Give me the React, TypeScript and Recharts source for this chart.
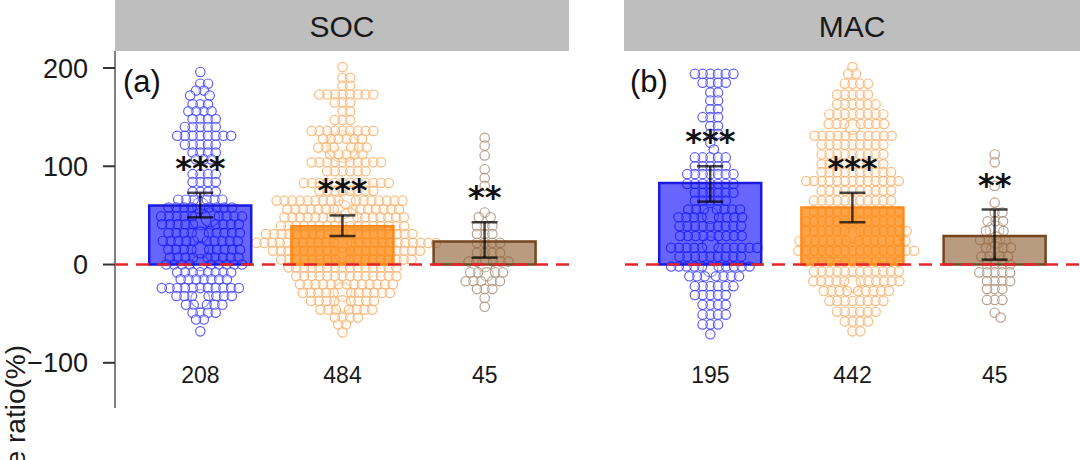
import { ComposedChart, Bar, Cell, ErrorBar, Scatter, XAxis, YAxis, ReferenceLine } from 'recharts'

// bar means and 95% CI per treatment (x = 1, 2, 3)
const treatments = ['1', '2', '3']
const socMeans = [60, 39, 23.5]
const socLow = [48, 29, 7]
const socHigh = [73, 50, 43]
const socStars = ['***', '***', '**']
const socN = [208, 484, 45]

const macMeans = [83, 58, 29]
const macLow = [64, 43, 5]
const macHigh = [100, 73, 56]
const macStars = ['***', '***', '**']
const macN = [195, 442, 45]

const yTicks = [-100, 0, 100, 200]

// swarm rows: [response value, number of observations]
const socBlueRows = [
  [196, 1], [184, 2], [177, 2], [172, 2], [163, 3], [156, 4], [148, 4], [140, 5], [131, 8], [122, 5],
  [114, 4], [107, 3], [92, 4], [84, 4], [74, 4], [66, 6], [58, 8], [49, 9], [41, 9], [32, 9],
  [24, 10], [15, 9], [7, 9], [0, 9], [-8, 8], [-15, 7], [-24, 11], [-32, 7], [-41, 5], [-49, 4],
  [-56, 2], [-68, 1],
]
const socOrangeRows = [
  [201, 1], [190, 2], [182, 2], [173, 8], [165, 3], [156, 2], [147, 3], [136, 9], [128, 6], [119, 6],
  [112, 5], [104, 10], [95, 6], [83, 12], [75, 8], [65, 16], [56, 14], [48, 15], [39, 17], [31, 20],
  [22, 23], [14, 19], [5, 17], [-3, 15], [-12, 14], [-20, 13], [-29, 11], [-37, 8], [-46, 7], [-54, 4],
  [-61, 2], [-69, 1],
]
const socBrownRows = [
  [129, 1], [121, 1], [111, 1], [97, 1], [88, 1], [80, 1], [53, 1], [48, 2], [39, 3], [31, 3],
  [22, 4], [12, 4], [3, 5], [-8, 4], [-17, 5], [-25, 3], [-34, 1], [-43, 1],
]
const macBlueRows = [
  [194, 6], [185, 4], [175, 2], [167, 2], [158, 2], [150, 3], [141, 2], [133, 2], [124, 1], [117, 1],
  [109, 5], [100, 5], [92, 7], [82, 7], [73, 6], [65, 5], [56, 7], [48, 8], [39, 9], [29, 9],
  [17, 11], [8, 9], [-2, 10], [-12, 7], [-22, 6], [-31, 5], [-41, 4], [-51, 4], [-61, 3], [-71, 1],
]
const macOrangeRows = [
  [201, 1], [194, 2], [184, 4], [173, 5], [163, 6], [153, 8], [143, 7], [131, 11], [122, 9], [112, 9],
  [102, 9], [94, 10], [85, 13], [75, 10], [65, 11], [54, 12], [44, 13], [34, 13], [24, 14], [14, 16],
  [3, 13], [-7, 12], [-17, 11], [-27, 9], [-37, 8], [-48, 6], [-58, 4], [-68, 2],
]
const macBrownRows = [
  [112, 1], [104, 1], [80, 1], [63, 1], [53, 2], [44, 3], [34, 2], [25, 3], [17, 3], [8, 4],
  [0, 4], [-8, 5], [-17, 4], [-25, 3], [-36, 3], [-49, 1], [-54, 1],
]

// heavier-weighted observations: [response value, weight]
const socBlueBig = [[46, 5], [48, 4], [30, 3], [-35, 4], [2, 3], [60, 3], [15, 3]]
const socOrangeBig = [[120, 11], [56, 4], [48, 4], [22, 4], [-28, 4], [10, 3], [-40, 3], [65, 3]]
const socBrownBig = [[0, 2.5], [-10, 2]]
const macBlueBig = [[20, 3], [50, 3], [-5, 2.5]]
const macOrangeBig = [[30, 3], [-20, 3], [140, 2.5]]
const macBrownBig = [[35, 4], [25, 3], [15, 3]]

const Y_MIN = -146
const Y_MAX = 217.3
const PLOT_TOP = 51
const PLOT_H = 357
const PLOT_W = 455
const AXIS_W = 115
const X_DOMAIN = [0.4, 3.6]
const PX_PER_V = PLOT_H / (Y_MAX - Y_MIN)
const PX_PER_X = PLOT_W / (X_DOMAIN[1] - X_DOMAIN[0])
const X_PAD = (PLOT_W - PX_PER_X * 3) / 2
const R0 = 4.7
const PACK = 0.82
const LABEL_V = -112

const font = '"Liberation Sans", Arial, Helvetica, sans-serif'

const palette = [
  { bar: '#0000ff', barOpacity: 0.6, edge: '#1a1ae0', dot: '#4343ff', dotFill: '#ffffff' },
  { bar: '#ff8000', barOpacity: 0.7, edge: '#ff8a1c', dot: '#f8b270', dotFill: '#fff3e6' },
  { bar: '#8b5a2b', barOpacity: 0.6, edge: '#754620', dot: '#ad917b', dotFill: '#ffffff' },
]

const radius = (w: number) => R0 * Math.sqrt(w)

// simple greedy beeswarm, offsets in pixels converted back to x units
function swarm(rows: number[][], big: number[][], cx: number) {
  const pts: { v: number; w: number }[] = []
  big.forEach(([v, w]) => pts.push({ v, w }))
  rows.forEach(([v, n]) => {
    for (let i = 0; i < n; i++) pts.push({ v, w: 1 })
  })
  const placed: { x: number; y: number; r: number }[] = []
  return pts.map((p) => {
    const r = Math.min(radius(p.w), R0 * 1.3)
    const y = p.v * PX_PER_V
    const fits = (x: number) =>
      placed.every((q) => {
        const d = (r + q.r) * PACK
        const dx = x - q.x
        const dy = y - q.y
        return dx * dx + dy * dy >= d * d - 0.01
      })
    const cands = [0]
    placed.forEach((q) => {
      const d = (r + q.r) * PACK
      const dy = y - q.y
      if (Math.abs(dy) < d) {
        const dx = Math.sqrt(d * d - dy * dy)
        cands.push(q.x + dx, q.x - dx)
      }
    })
    cands.sort((a, b) => Math.abs(a) - Math.abs(b))
    const x = cands.find(fits) ?? 0
    placed.push({ x, y, r })
    return { x: cx + x / PX_PER_X, y: p.v, w: p.w }
  })
}

const dotShape = (i: number) => (props: any) => {
  const { cx, cy, payload } = props
  const c = palette[i]
  return (
    <circle
      cx={cx}
      cy={cy}
      r={radius(payload.w)}
      fill={c.dotFill}
      fillOpacity={0.35}
      stroke={c.dot}
      strokeOpacity={0.85}
      strokeWidth={1.2}
    />
  )
}

const starShape = (props: any) => (
  <text
    x={props.cx}
    y={props.cy - 14}
    textAnchor="middle"
    fontFamily='"DejaVu Sans", sans-serif'
    fontWeight="bold"
    fontSize={32}
    fill="#111"
  >
    {props.payload.label}
  </text>
)

const countShape = (props: any) => (
  <text x={props.cx} y={props.cy + 8} textAnchor="middle" fontFamily={font} fontSize={23} fill="#1a1a1a">
    {props.payload.label}
  </text>
)

interface PanelProps {
  means: number[]
  lows: number[]
  highs: number[]
  stars: string[]
  counts: number[]
  rows: number[][][]
  big: number[][][]
  showAxis: boolean
}

function Panel({ means, lows, highs, stars, counts, rows, big, showAxis }: PanelProps) {
  const bars = means.map((m, i) => ({ name: treatments[i], y: m, err: [m - lows[i], highs[i] - m] }))
  const swarms = rows.map((r, i) => swarm(r, big[i], i + 1))
  const starPts = highs.map((h, i) => ({ x: i + 1, y: h, label: stars[i] }))
  const countPts = counts.map((n, i) => ({ x: i + 1, y: LABEL_V, label: String(n) }))
  const width = PLOT_W + (showAxis ? AXIS_W : 0)
  const margin = { top: 0, right: 0, bottom: 0, left: 0 }

  const numX = (
    <XAxis xAxisId="num" type="number" dataKey="x" domain={X_DOMAIN} allowDataOverflow hide height={0} />
  )
  const hiddenY = (
    <YAxis
      type="number"
      dataKey="y"
      domain={[Y_MIN, Y_MAX]}
      allowDataOverflow
      hide={!showAxis}
      width={showAxis ? AXIS_W : 0}
      axisLine={false}
      tickLine={false}
      tick={false}
    />
  )

  return (
    <div style={{ position: 'relative', width, height: PLOT_H }}>
      {/* points layer, under the bars */}
      <div style={{ position: 'absolute', left: 0, top: 0 }}>
        <ComposedChart width={width} height={PLOT_H} data={bars} margin={margin}>
          {numX}
          {hiddenY}
          {swarms.map((pts, i) => (
            <Scatter key={i} xAxisId="num" data={pts} shape={dotShape(i)} isAnimationActive={false} />
          ))}
        </ComposedChart>
      </div>
      {/* bars, CIs, zero line and labels */}
      <div style={{ position: 'absolute', left: 0, top: 0 }}>
        <ComposedChart width={width} height={PLOT_H} data={bars} margin={margin}>
          <XAxis
            xAxisId="cat"
            type="category"
            dataKey="name"
            padding={{ left: X_PAD, right: X_PAD }}
            hide
            height={0}
          />
          {numX}
          <YAxis
            type="number"
            dataKey="y"
            domain={[Y_MIN, Y_MAX]}
            ticks={yTicks}
            allowDataOverflow
            hide={!showAxis}
            width={showAxis ? AXIS_W : 0}
            axisLine={{ stroke: '#808080', strokeWidth: 2 }}
            tickLine={{ stroke: '#333', strokeWidth: 2 }}
            tickSize={12}
            tickMargin={15}
            tick={{ fill: '#1a1a1a', fontSize: 27, fontFamily: font }}
            tickFormatter={(v: number) => String(v).replace('-', '\u2212')}
          />
          <Bar xAxisId="cat" dataKey="y" barSize={102} isAnimationActive={false}>
            {bars.map((b, i) => (
              <Cell
                key={b.name}
                fill={palette[i].bar}
                fillOpacity={palette[i].barOpacity}
                stroke={palette[i].edge}
                strokeWidth={2.5}
              />
            ))}
            <ErrorBar
              dataKey="err"
              direction="y"
              width={13}
              stroke="#000"
              strokeOpacity={0.72}
              strokeWidth={2.5}
              isAnimationActive={false}
            />
          </Bar>
          <ReferenceLine xAxisId="cat" y={0} stroke="#e3242b" strokeWidth={2.5} strokeDasharray="13 8" />
          <Scatter xAxisId="num" data={starPts} shape={starShape} isAnimationActive={false} />
          <Scatter xAxisId="num" data={countPts} shape={countShape} isAnimationActive={false} />
        </ComposedChart>
      </div>
    </div>
  )
}

export default function App() {
  return (
    <div
      style={{
        position: 'absolute',
        left: 0,
        top: 0,
        width: 1080,
        height: 460,
        overflow: 'hidden',
        background: '#fff',
        fontFamily: font,
      }}
    >
      <div style={{ position: 'absolute', left: 0, top: PLOT_TOP }}>
        <Panel
          means={socMeans}
          lows={socLow}
          highs={socHigh}
          stars={socStars}
          counts={socN}
          rows={[socBlueRows, socOrangeRows, socBrownRows]}
          big={[socBlueBig, socOrangeBig, socBrownBig]}
          showAxis
        />
      </div>
      <div style={{ position: 'absolute', left: 625, top: PLOT_TOP }}>
        <Panel
          means={macMeans}
          lows={macLow}
          highs={macHigh}
          stars={macStars}
          counts={macN}
          rows={[macBlueRows, macOrangeRows, macBrownRows]}
          big={[macBlueBig, macOrangeBig, macBrownBig]}
          showAxis={false}
        />
      </div>
      <svg
        width={1080}
        height={460}
        style={{ position: 'absolute', left: 0, top: 0, pointerEvents: 'none' }}
      >
        <rect x={115} y={0} width={454} height={PLOT_TOP} fill="#bebebe" />
        <rect x={624} y={0} width={456} height={PLOT_TOP} fill="#bebebe" />
        <text x={342} y={37} textAnchor="middle" fontSize={30} fill="#1a1a1a" fontFamily={font}>
          SOC
        </text>
        <text x={852} y={37} textAnchor="middle" fontSize={30} fill="#1a1a1a" fontFamily={font}>
          MAC
        </text>
        <text x={123} y={92} fontSize={31} fill="#111" fontFamily={font}>
          (a)
        </text>
        <text x={630} y={92} fontSize={31} fill="#111" fontFamily={font}>
          (b)
        </text>
        <text
          transform="rotate(-90)"
          x={-345}
          y={25}
          textAnchor="end"
          fontSize={28}
          fill="#1a1a1a"
          fontFamily={font}
        >
          Response ratio(%)
        </text>
      </svg>
    </div>
  )
}
